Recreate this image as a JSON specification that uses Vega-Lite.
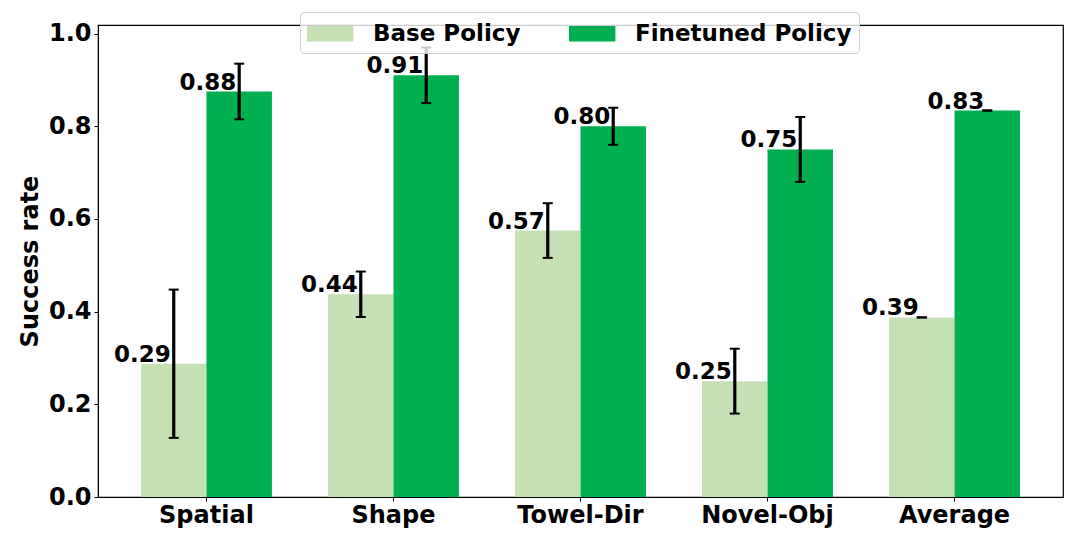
{
  "$schema": "https://vega.github.io/schema/vega-lite/v6.json",
  "width": 965,
  "height": 472,
  "autosize": {"type": "none"},
  "padding": {"left": 98, "top": 25, "right": 23, "bottom": 48},
  "config": {
    "font": "DejaVu Sans",
    "view": {"stroke": "black", "strokeWidth": 1.2}
  },
  "data": {
    "values": [
      {"task": "Spatial", "policy": "Base Policy", "rate": 0.2875, "lo": 0.1275, "hi": 0.4475, "label": "0.29"},
      {"task": "Spatial", "policy": "Finetuned Policy", "rate": 0.875, "lo": 0.815, "hi": 0.935, "label": "0.88"},
      {"task": "Shape", "policy": "Base Policy", "rate": 0.4375, "lo": 0.3885, "hi": 0.4865, "label": "0.44"},
      {"task": "Shape", "policy": "Finetuned Policy", "rate": 0.91, "lo": 0.85, "hi": 0.97, "label": "0.91"},
      {"task": "Towel-Dir", "policy": "Base Policy", "rate": 0.575, "lo": 0.516, "hi": 0.634, "label": "0.57"},
      {"task": "Towel-Dir", "policy": "Finetuned Policy", "rate": 0.8, "lo": 0.76, "hi": 0.84, "label": "0.80"},
      {"task": "Novel-Obj", "policy": "Base Policy", "rate": 0.25, "lo": 0.18, "hi": 0.32, "label": "0.25"},
      {"task": "Novel-Obj", "policy": "Finetuned Policy", "rate": 0.75, "lo": 0.68, "hi": 0.82, "label": "0.75"},
      {"task": "Average", "policy": "Base Policy", "rate": 0.3875, "lo": 0.3875, "hi": 0.3875, "label": "0.39"},
      {"task": "Average", "policy": "Finetuned Policy", "rate": 0.834, "lo": 0.834, "hi": 0.834, "label": "0.83"}
    ]
  },
  "encoding": {
    "x": {
      "field": "task", "type": "nominal", "sort": null,
      "scale": {"paddingInner": 0.3, "paddingOuter": 0.23},
      "axis": {
        "title": null, "labelAngle": 0, "labelFontSize": 24, "labelFontWeight": "bold",
        "labelColor": "black", "tickColor": "black", "tickSize": 4, "domainColor": "black",
        "labelPadding": 2
      }
    },
    "xOffset": {
      "field": "policy", "type": "nominal", "sort": null,
      "scale": {"paddingInner": 0, "paddingOuter": 0}
    }
  },
  "layer": [
    {
      "mark": {"type": "bar"},
      "encoding": {
        "y": {
          "field": "rate", "type": "quantitative",
          "scale": {"domain": [0, 1.0185], "nice": false},
          "axis": {
            "title": "Success rate", "titleFontSize": 24, "titleFontWeight": "bold", "titleColor": "black",
            "titlePadding": 6,
            "values": [0, 0.2, 0.4, 0.6, 0.8, 1.0], "format": ".1f", "grid": false,
            "labelFontSize": 24, "labelFontWeight": "bold", "labelColor": "black",
            "tickColor": "black", "tickSize": 4, "domainColor": "black", "labelPadding": 3
          }
        },
        "color": {
          "field": "policy", "type": "nominal",
          "scale": {"domain": ["Base Policy", "Finetuned Policy"], "range": ["#c5e0b4", "#00b050"]},
          "legend": {
            "title": null, "orient": "none", "legendX": 202, "legendY": -13,
            "direction": "horizontal", "columns": 2, "columnPadding": 48,
            "symbolType": "M-1,-0.53H2.2V0.53H-1Z", "symbolSize": 841,
            "symbolStrokeWidth": 0, "symbolOpacity": 1, "labelOffset": 37, "labelLimit": 0,
            "labelFontSize": 23, "labelFontWeight": "bold", "labelColor": "black",
            "padding": 7, "fillColor": "rgba(255,255,255,0.8)", "strokeColor": "#d0d0d0",
            "cornerRadius": 4
          }
        }
      }
    },
    {
      "mark": {"type": "rule", "strokeWidth": 3.2, "color": "black"},
      "encoding": {
        "y": {"field": "lo", "type": "quantitative"},
        "y2": {"field": "hi"}
      }
    },
    {
      "mark": {"type": "tick", "size": 10, "thickness": 2, "color": "black", "opacity": 1},
      "encoding": {"y": {"field": "lo", "type": "quantitative"}}
    },
    {
      "mark": {"type": "tick", "size": 10, "thickness": 2, "color": "black", "opacity": 1},
      "encoding": {"y": {"field": "hi", "type": "quantitative"}}
    },
    {
      "mark": {
        "type": "text", "align": "right", "baseline": "alphabetic", "dx": -3, "dy": -2,
        "fontSize": 23, "fontWeight": "bold", "color": "black"
      },
      "encoding": {
        "y": {"field": "rate", "type": "quantitative"},
        "text": {"field": "label"}
      }
    }
  ]
}
